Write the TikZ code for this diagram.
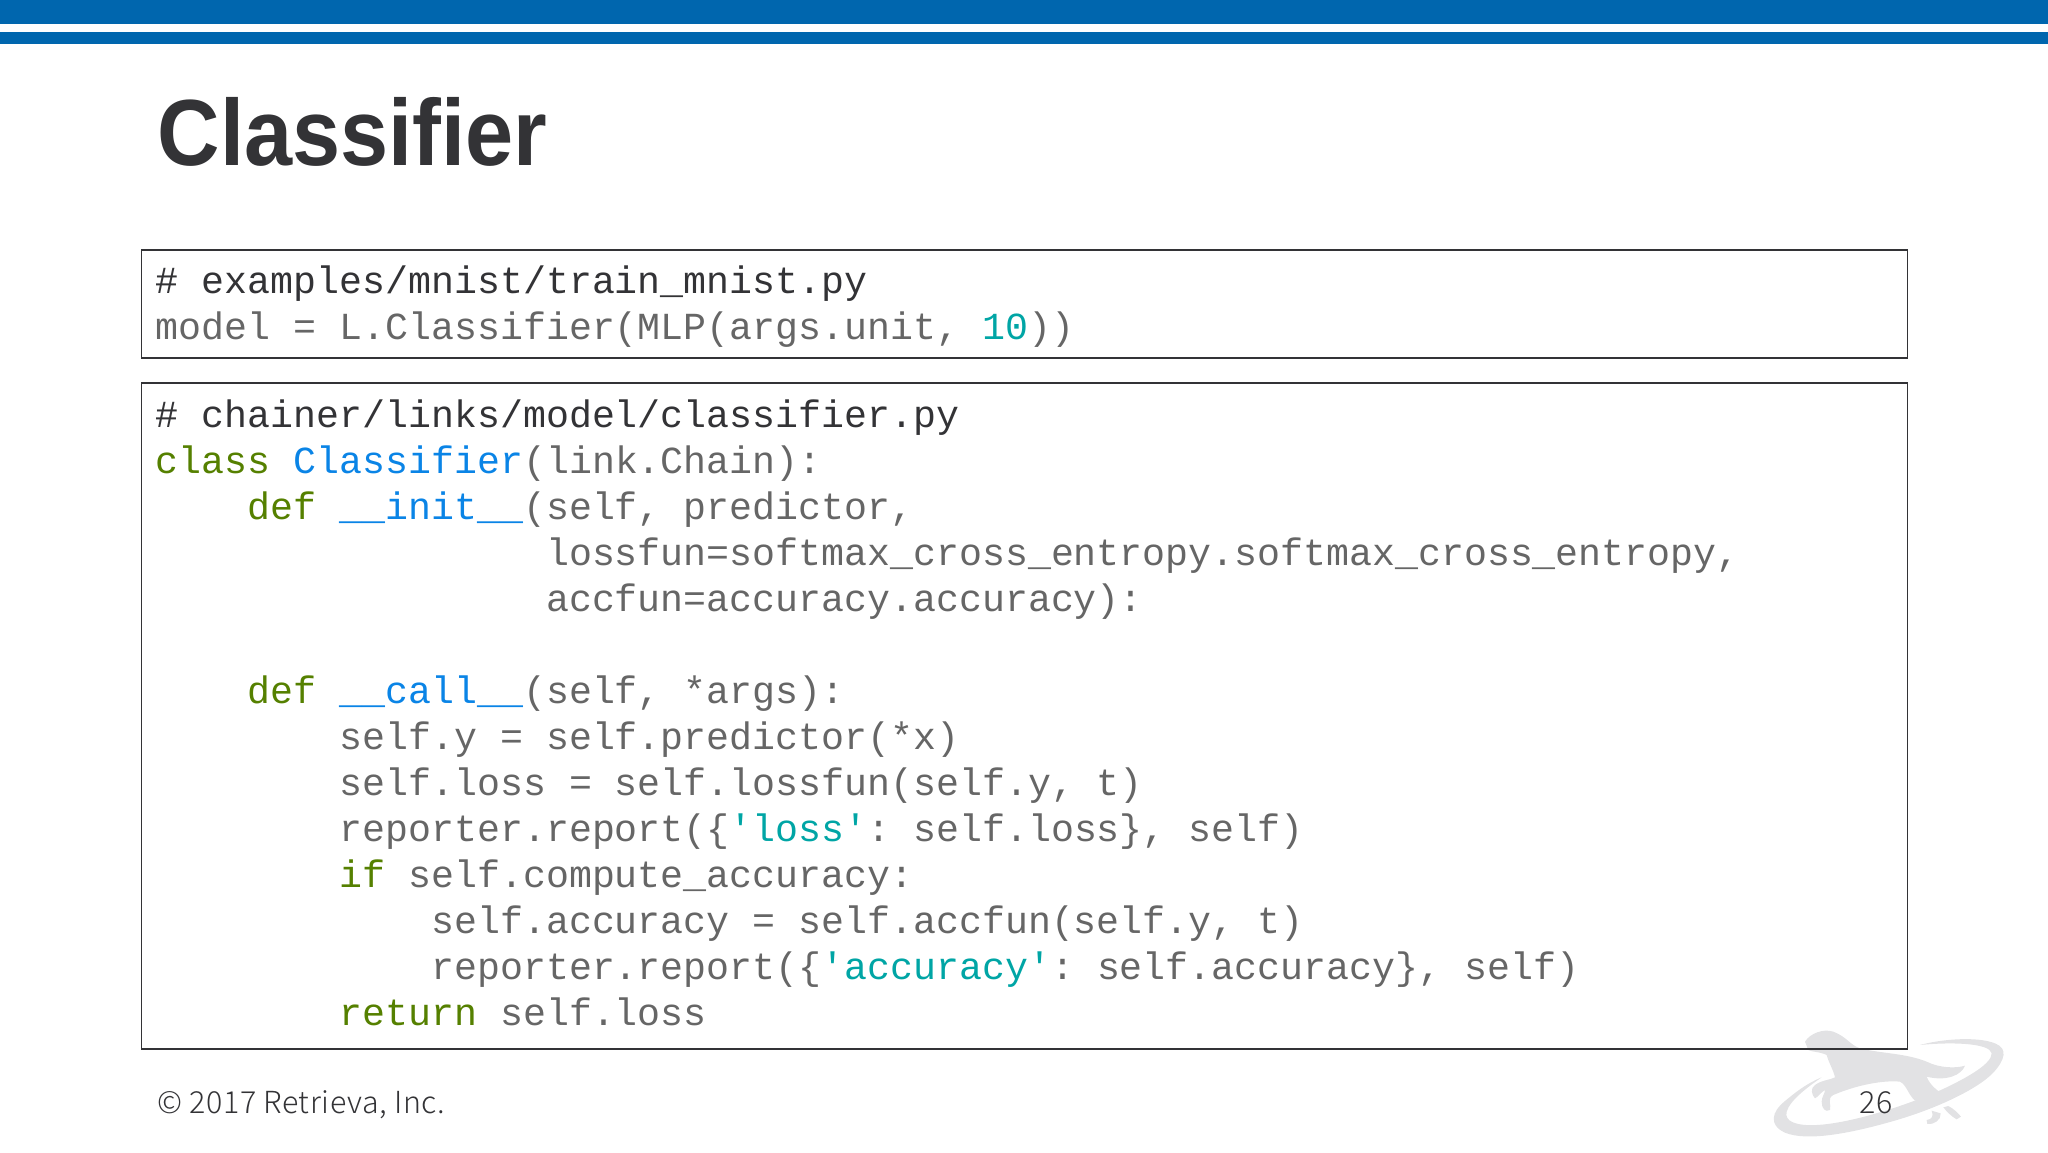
\documentclass[tikz,border=0pt]{standalone}
\usepackage{fontspec}
\setmainfont{Noto Sans CJK JP Light}
\setmonofont{Liberation Mono}
\newfontfamily\titlefont[FakeStretch=0.92]{Liberation Sans}
\newfontfamily\footfont[LetterSpace=1.9]{Noto Sans CJK JP Light}
\usetikzlibrary{positioning}

\definecolor{barblue}{HTML}{0066AE}
\definecolor{inkdark}{HTML}{333336}
\definecolor{codegrey}{HTML}{666666}
\definecolor{kwgreen}{HTML}{558000}
\definecolor{fnblue}{HTML}{0A84E6}
\definecolor{strteal}{HTML}{00A5A5}
\definecolor{doggrey}{HTML}{E2E2E4}

\newcommand{\kw}[1]{\textcolor{kwgreen}{#1}}
\newcommand{\fn}[1]{\textcolor{fnblue}{#1}}
\newcommand{\str}[1]{\textcolor{strteal}{#1}}
\newcommand{\cmt}[1]{\textcolor{inkdark}{#1}}
\newcommand{\ind}[1]{\hspace*{#1\dimexpr 22.95pt\relax}}

\tikzset{
  codebox/.style={draw=inkdark,line width=1.9pt,anchor=north west,align=flush left,
    text width=1737pt,inner xsep=14.5pt,inner ysep=0pt,text=codegrey,
    font=\ttfamily\fontsize{38.25}{46}\selectfont},
  footnote/.style={text=inkdark,anchor=base west,inner sep=0pt,
    font=\footfont\fontsize{30.4}{34}\selectfont}
}

\begin{document}
\begin{tikzpicture}[x=1pt,y=-1pt]

  \useasboundingbox (0,0) rectangle (2048,1152);

  % header bars
  \fill[barblue] (0,0) rectangle (2048,24);
  \fill[barblue] (0,31.5) rectangle (2048,43.5);

  % logo
  \begin{scope}[shift={(1700,1000)},x=0.3333pt,y=-0.3333pt]
    \fill[doggrey] (315,125) .. controls (330,100) and (370,85) .. (400,95)
      .. controls (440,110) and (450,135) .. (480,145)
      .. controls (540,160) and (620,160) .. (680,185)
      .. controls (720,205) and (770,205) .. (795,197)
      .. controls (785,225) and (740,245) .. (680,230)
      .. controls (690,255) and (710,270) .. (725,280)
      -- (645,302) .. controls (625,285) and (620,255) .. (600,245)
      .. controls (550,240) and (470,255) .. (400,285)
      .. controls (380,295) and (395,315) .. (390,330)
      .. controls (375,338) and (365,325) .. (365,305)
      .. controls (365,290) and (375,280) .. (375,270)
      .. controls (365,275) and (355,290) .. (345,295)
      .. controls (335,285) and (330,265) .. (345,255)
      .. controls (365,240) and (390,240) .. (405,232)
      .. controls (400,210) and (385,185) .. (380,165)
      .. controls (360,155) and (330,155) .. (325,150) -- cycle;
    \fill[doggrey] (745,318) .. controls (760,325) and (775,340) .. (783,350)
      -- (770,358) .. controls (755,350) and (740,335) .. (730,322) -- cycle;
    \fill[doggrey] (695,332) -- (722,340) .. controls (725,360) and (700,375) .. (682,372)
      -- (680,360) .. controls (695,358) and (702,350) .. (695,332) -- cycle;
    \fill[doggrey] (660,135) .. controls (720,118) and (830,108) .. (885,130)
      .. controls (925,145) and (915,180) .. (880,218)
      .. controls (830,270) and (700,330) .. (570,366)
      .. controls (450,400) and (320,425) .. (255,398)
      .. controls (205,375) and (215,335) .. (255,303)
      .. controls (285,278) and (320,250) .. (365,232)
      .. controls (325,260) and (270,300) .. (260,335)
      .. controls (252,365) and (290,378) .. (350,375)
      .. controls (450,370) and (620,318) .. (740,262)
      .. controls (810,228) and (875,190) .. (875,160)
      .. controls (870,130) and (760,125) .. (660,135) -- cycle;
  \end{scope}

  % title
  \node[anchor=base west,inner sep=0pt,text=inkdark,font=\titlefont\fontsize{94}{100}\bfseries\selectfont] (title) at (157.5,165) {Classifier};

  % code boxes
  \node[codebox,minimum height=108pt] (trainbox) at (140.5,249) {%
    \rule{0pt}{34pt}\cmt{\# examples/mnist/train\_mnist.py}\\
    model = L.Classifier(MLP(args.unit, \str{10}))};

  \node[codebox,minimum height=666pt] (classifierbox) at (140.5,382) {%
    \cmt{\# chainer/links/model/classifier.py}\\
    \kw{class} \fn{Classifier}(link.Chain):\\
    \ind{4}\kw{def} \fn{\_\_init\_\_}(self, predictor,\\
    \ind{17}lossfun=softmax\_cross\_entropy.softmax\_cross\_entropy,\\
    \ind{17}accfun=accuracy.accuracy):\\[46pt]
    \ind{4}\kw{def} \fn{\_\_call\_\_}(self, *args):\\
    \ind{8}self.y = self.predictor(*x)\\
    \ind{8}self.loss = self.lossfun(self.y, t)\\
    \ind{8}reporter.report(\{\str{'loss'}: self.loss\}, self)\\
    \ind{8}\kw{if} self.compute\_accuracy:\\
    \ind{12}self.accuracy = self.accfun(self.y, t)\\
    \ind{12}reporter.report(\{\str{'accuracy'}: self.accuracy\}, self)\\
    \ind{8}\kw{return} self.loss\rule[-6pt]{0pt}{0pt}};

  % footer
  \node[footnote] (copyright) at (157,1113) {© 2017 Retrieva, Inc.};
  \node[footnote] (pagenum) at (1859,1113) {26};

\end{tikzpicture}
\end{document}
